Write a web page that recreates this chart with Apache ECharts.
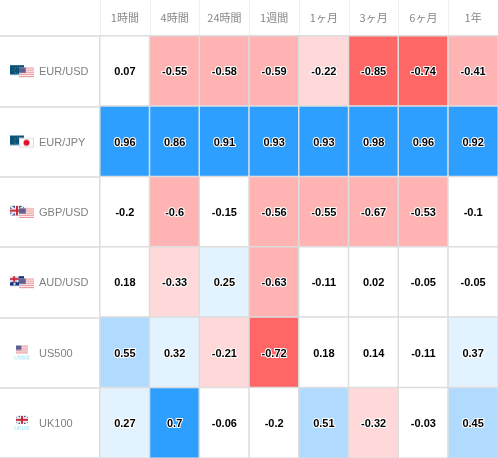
<!DOCTYPE html>
<html><head><meta charset="utf-8">
<style>html,body{margin:0;padding:0;background:#fff}#c{width:498px;height:458px}</style>
<script src="https://cdn.jsdelivr.net/npm/echarts@6/dist/echarts.min.js"></script>
</head><body><div id="c"></div>
<script>
const periods = ['1時間','4時間','24時間','1週間','1ヶ月','3ヶ月','6ヶ月','1年'];
const symbols = ['EUR/USD','EUR/JPY','GBP/USD','AUD/USD','US500','UK100'];
const eurUsd = [0.07,-0.55,-0.58,-0.59,-0.22,-0.85,-0.74,-0.41];
const eurJpy = [0.96,0.86,0.91,0.93,0.93,0.98,0.96,0.92];
const gbpUsd = [-0.2,-0.6,-0.15,-0.56,-0.55,-0.67,-0.53,-0.1];
const audUsd = [0.18,-0.33,0.25,-0.63,-0.11,0.02,-0.05,-0.05];
const us500 = [0.55,0.32,-0.21,-0.72,0.18,0.14,-0.11,0.37];
const uk100 = [0.27,0.7,-0.06,-0.2,0.51,-0.32,-0.03,0.45];
const rows = [eurUsd,eurJpy,gbpUsd,audUsd,us500,uk100];
const cells = [];
rows.forEach((r,y)=>r.forEach((v,x)=>cells.push([x,y,v])));

function usFlag(g,x,y,w,h){
  g.fillStyle='#fff';g.fillRect(x,y,w,h);
  g.fillStyle='#e58a8f';
  for(let i=0;i<5;i++)g.fillRect(x,y+i*h/4.5,w,h/9);
  g.fillStyle='#5d5f8f';g.fillRect(x,y,w*0.45,h*0.55);
}
function eu(g,x,y,w,h){
  g.fillStyle='#0b5278';g.fillRect(x,y,w,h);
  g.fillStyle='#6f8f4a';
  for(let i=0;i<8;i++){const a=i*Math.PI/4;g.fillRect(x+w/2+Math.cos(a)*3.2,y+h/2+Math.sin(a)*3.2,1,1);}
}
function uk(g,x,y,w,h){
  g.fillStyle='#2b3f80';g.fillRect(x,y,w,h);
  g.strokeStyle='#eee';g.lineWidth=2;
  g.beginPath();g.moveTo(x,y);g.lineTo(x+w,y+h);g.moveTo(x+w,y);g.lineTo(x,y+h);g.stroke();
  g.fillStyle='#eee';g.fillRect(x,y+h/2-2,w,4);g.fillRect(x+w/2-2,y,4,h);
  g.fillStyle='#c8283c';g.fillRect(x,y+h/2-1,w,2);g.fillRect(x+w/2-1,y,2,h);
}
function au(g,x,y,w,h){
  g.fillStyle='#15307f';g.fillRect(x,y,w,h);
  uk(g,x,y,w*0.6,h*0.6);
  g.fillStyle='#fff';g.fillRect(x+w*0.25,y+h*0.7,2,2);g.fillRect(x+w*0.75,y+h*0.3,1,1);g.fillRect(x+w*0.8,y+h*0.7,1,1);
}
function jp(g,x,y,w,h){
  g.fillStyle='#fff';g.fillRect(x,y,w,h);
  g.strokeStyle='#ddd';g.lineWidth=1;g.strokeRect(x+.5,y+.5,w-1,h-1);
  g.fillStyle='#e0102a';g.beginPath();g.arc(x+w/2,y+h/2,3,0,7);g.fill();
}
function icon(draw){
  const c=document.createElement('canvas');c.width=24;c.height=16;
  draw(c.getContext('2d'));return c;
}
function pair(a,b){return icon(g=>{a(g,0,1,14,9.5);b(g,9,3.5,15,9.5);});}
function idx(f,t){return icon(g=>{f(g,6,0,12,8);
  g.fillStyle='#8fdcf5';g.font='5px "Liberation Sans"';g.textAlign='center';g.textBaseline='top';g.fillText(t,12,10);});}
const flags = {
  a:pair(eu,usFlag), b:pair(eu,jp), c:pair(uk,usFlag), d:pair(au,usFlag),
  e:idx(usFlag,'US500'), f:idx(uk,'UK100')
};
const keys = ['a','b','c','d','e','f'];
const rich = {t:{color:'#808080',fontSize:11,fontFamily:'"Liberation Sans"',padding:[0,0,0,5]}};
keys.forEach(k=>rich[k]={width:24,height:16,backgroundColor:{image:flags[k]}});

const chart = echarts.init(document.getElementById('c'),null,{renderer:'canvas'});
chart.setOption({
  animation:false,
  backgroundColor:'#fff',
  grid:{left:100,right:0,top:36,bottom:0},
  tooltip:{show:false},
  xAxis:{type:'category',position:'top',data:periods,
    axisLine:{show:false},
    axisTick:{show:true,alignWithLabel:false,length:36,lineStyle:{color:'#f0f0f0',width:1}},
    axisLabel:{color:'#888',fontSize:11,margin:13,fontFamily:'"Noto Sans CJK JP"'},
    splitLine:{show:false}},
  yAxis:{type:'category',inverse:true,data:symbols,
    axisLine:{show:false},
    axisTick:{show:true,length:100,lineStyle:{color:'#dcdcdc',width:1.5}},
    axisLabel:{align:'left',margin:90,padding:[2,0,0,0],
      formatter:(v,i)=>`{${keys[i]}|}{t|${v}}`,rich},
    splitLine:{show:false}},
  visualMap:{show:false,type:'piecewise',dimension:2,seriesIndex:0,
    pieces:[
      {max:-0.7,color:'#ff6666'},
      {min:-0.7,max:-0.4,color:'#ffb3b3'},
      {min:-0.4,max:-0.205,color:'#ffd9d9'},
      {min:-0.205,max:0.2,color:'#ffffff'},
      {min:0.2,max:0.4,color:'#e3f2ff'},
      {min:0.4,max:0.695,color:'#b0dbff'},
      {min:0.695,color:'#2e9fff'}
    ]},
  series:[{type:'heatmap',data:cells,
    itemStyle:{borderColor:'#dddddd',borderWidth:1.5},
    emphasis:{disabled:true},
    label:{show:true,color:'#000',fontSize:11,fontWeight:'bold',fontFamily:'"Liberation Sans"',
      textBorderColor:'#fff',textBorderWidth:2,offset:[0,1],
      formatter:p=>String(p.value[2])}
  }]
});
</script></body></html>
